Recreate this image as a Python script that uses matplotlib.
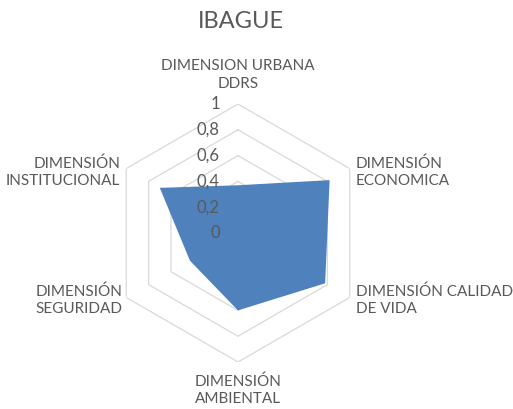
import numpy as np
import matplotlib
matplotlib.use('Agg')
import matplotlib.pyplot as plt

# datos del grafico radar
categorias = ['DIMENSION URBANA\nDDRS', 'DIMENSIÓN\nECONOMICA', 'DIMENSIÓN CALIDAD\nDE VIDA',
              'DIMENSIÓN\nAMBIENTAL', 'DIMENSIÓN\nSEGURIDAD', 'DIMENSIÓN\nINSTITUCIONAL']
valores = [0.37, 0.82, 0.78, 0.60, 0.43, 0.70]
niveles = [0, 0.2, 0.4, 0.6, 0.8, 1]
etiquetas_niveles = ['0', '0,2', '0,4', '0,6', '0,8', '1']

gris = '#595959'
plt.rcParams['font.family'] = ['Lato', 'DejaVu Sans']

fig = plt.figure(figsize=(5.13, 4.09), dpi=100)
W, H = 513, 409
cx, cy, R = 238, 233, 129
ax = fig.add_axes([(cx - R) / W, (H - cy - R) / H, 2 * R / W, 2 * R / H], projection='polar')
ax.set_theta_offset(np.pi / 2)
ax.set_theta_direction(-1)
ax.set_ylim(0, 1)
ax.grid(False)
ax.spines['polar'].set_visible(False)
ax.set_xticks([])
ax.set_yticks([])
ax.patch.set_alpha(0)

n = len(categorias)
angulos = np.arange(n) * 2 * np.pi / n
ang_cerrado = np.append(angulos, angulos[0])

# hexagonos de la rejilla
for nivel in niveles[1:]:
    ax.plot(ang_cerrado, [nivel] * (n + 1), color='#D9D9D9', lw=0.9, zorder=1)

# area de la serie
vals = np.append(valores, valores[0])
ax.fill(ang_cerrado, vals, color='#4F81BD', zorder=2, lw=0)

# etiquetas de los niveles
for nivel, txt in zip(niveles, etiquetas_niveles):
    ax.annotate(txt, xy=(0, nivel), xytext=(-18, 0), textcoords='offset pixels',
                ha='right', va='center', fontsize=12, color=gris, zorder=3)

# etiquetas de las categorias
offsets = [(0, 29, 'center'), (6, -4, 'left'), (6, -3, 'left'),
           (0, -28, 'center'), (-4, -3, 'right'), (-6, -4, 'right')]
for ang, cat, (dx, dy, ha) in zip(angulos, categorias, offsets):
    ax.annotate(cat, xy=(ang, 1), xytext=(dx, dy), textcoords='offset pixels',
                ha=ha, va='center', fontsize=11, color=gris, linespacing=1.3,
                annotation_clip=False)

fig.text(0.47, 1 - 22 / H, 'IBAGUE', ha='center', va='center', fontsize=17, color=gris)

fig.savefig('out.png', dpi=100)
